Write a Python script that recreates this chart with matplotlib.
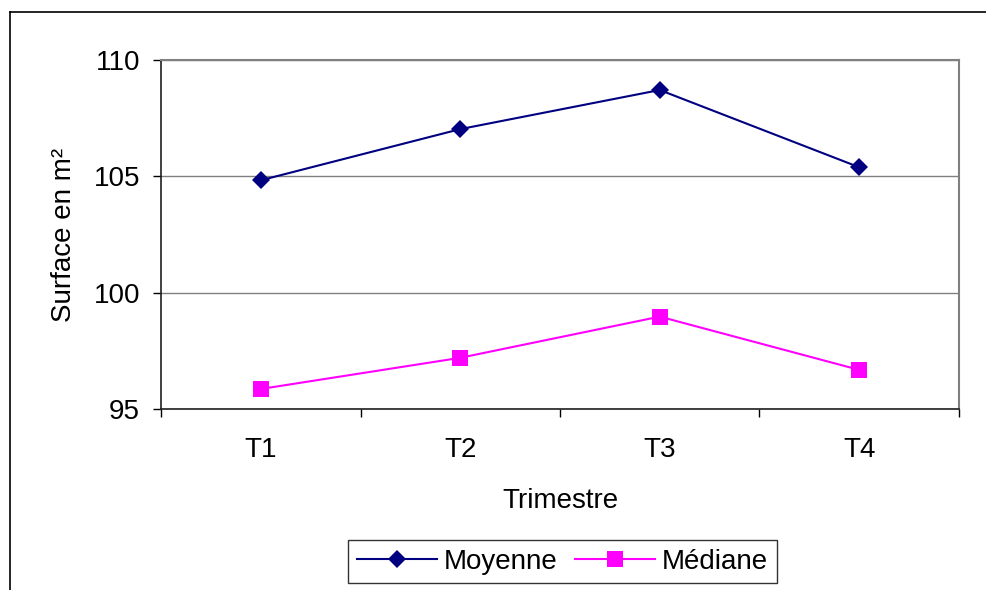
import numpy as np
import matplotlib.pyplot as plt
from matplotlib.lines import Line2D

plt.rcParams['font.family'] = ['Liberation Sans', 'DejaVu Sans']

trimestres = ['T1', 'T2', 'T3', 'T4']
moyenne = [104.83, 107.03, 108.71, 105.39]
mediane = [95.86, 97.20, 98.97, 96.68]
y_ticks = [95, 100, 105, 110]

fig = plt.figure(figsize=(9.86, 5.90), dpi=100)
ax = fig.add_axes([0.1633, 0.3068, 0.8093, 0.5915])

x = np.arange(len(trimestres))
ax.plot(x, moyenne, color='#000080', lw=1.5, marker='D', ms=9, mew=0,
        label='Moyenne', zorder=3)
ax.plot(x, mediane, color='#FF00FF', lw=1.5, marker='s', ms=12, mew=0,
        label='Médiane', zorder=3)

ax.set_xlim(-0.5, len(trimestres) - 0.5)
ax.set_ylim(95, 110)
ax.set_yticks(y_ticks)
ax.set_yticklabels([str(v) for v in y_ticks])
ax.yaxis.grid(True, color='#808080', lw=1)
ax.set_axisbelow(True)

# major ticks at category boundaries, labels on minor ticks
ax.set_xticks(np.arange(-0.5, len(trimestres), 1.0))
ax.set_xticklabels([])
ax.set_xticks(x, minor=True)
ax.set_xticklabels(trimestres, minor=True)
ax.tick_params(axis='x', which='major', direction='out', length=6, width=1)
ax.tick_params(axis='x', which='minor', length=0, pad=20, labelsize=20)
ax.tick_params(axis='y', direction='out', length=6, width=1, pad=9,
               labelsize=20)

for side in ['top', 'right']:
    ax.spines[side].set_color('#808080')
    ax.spines[side].set_linewidth(1.5)
for side in ['left', 'bottom']:
    ax.spines[side].set_color('#202020')
    ax.spines[side].set_linewidth(1.2)

ax.set_xlabel('Trimestre', fontsize=20, labelpad=18)
ax.set_ylabel('Surface en m²', fontsize=20, labelpad=12)

leg = fig.legend(loc='center', bbox_to_anchor=(0.5705, 0.0483), ncol=2,
                 fontsize=20, frameon=True, fancybox=False, handlelength=2.9,
                 handletextpad=0.25, columnspacing=0.6, borderpad=0.3,
                 borderaxespad=0)
leg.get_frame().set_edgecolor('black')
leg.get_frame().set_linewidth(1)

# outer chart frame (runs off the right and bottom of the picture)
fig.add_artist(Line2D([0.0101, 0.0101], [0, 1 - 12 / 590], color='black',
                      lw=1.2, transform=fig.transFigure))
fig.add_artist(Line2D([0.0101, 1], [1 - 12 / 590, 1 - 12 / 590],
                      color='black', lw=1.2, transform=fig.transFigure))

fig.savefig('out.png', dpi=100)
